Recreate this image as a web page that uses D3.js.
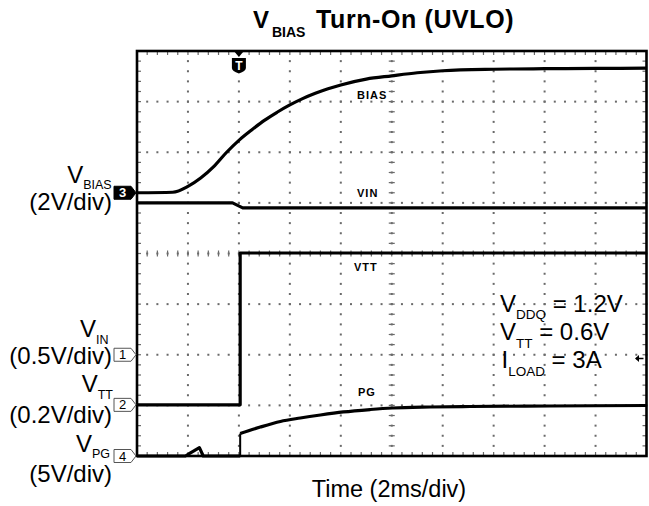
<!DOCTYPE html>
<html>
<head>
<meta charset="utf-8">
<script src="https://cdn.jsdelivr.net/npm/d3@7"></script>
<style>
  html, body { margin: 0; padding: 0; background: #fff; }
  svg { display: block; font-family: "Liberation Sans", Arial, Helvetica, sans-serif; }
</style>
</head>
<body>
<svg id="chart" width="649" height="506"></svg>
<script>
// ---- Data (time in ms, values in volts) ----
const biasT = [-4, -2.6, -2.0, -1.5, -1.0, -0.5, 0, 0.5, 1.0, 1.5, 2.0, 2.5, 3.0, 3.5, 4.0, 5.0, 6.0, 7.0, 8.0, 10, 12, 14, 16];
const biasV = [0, 0.02, 0.25, 0.58, 1.02, 1.58, 2.07, 2.48, 2.86, 3.18, 3.47, 3.72, 3.93, 4.11, 4.26, 4.49, 4.62, 4.74, 4.82, 4.88, 4.90, 4.91, 4.92];

const vinT = [-4, -0.25, 0.15, 16];
const vinV = [1.50, 1.50, 1.45, 1.45];

const vttT = [-4, 0.05, 0.05, 16];
const vttV = [0, 0, 0.60, 0.60];

const pgT = [-4, -2.1, -1.9, -1.55, -1.4, 0.05, 0.05, 0.84, 1.63, 2.41, 3.2, 4.1, 5.16, 6.02, 7.51, 9.08, 12.2, 16];
const pgV = [0, 0, 0.30, 0.82, 0, 0, 2.22, 2.86, 3.41, 3.75, 4.05, 4.35, 4.59, 4.74, 4.84, 4.89, 4.94, 4.99];

// Channel setup: number, name, volts/div, ground offset (div from centre)
const chNames   = ["VIN", "VTT", "BIAS", "PG"];
const chNumbers = ["1", "2", "3", "4"];
const chVoltsPerDiv = [0.5, 0.2, 2, 5];
const chGroundDiv   = [-2.0, -2.99, 1.2, -4.0];

// Axis setup
const timeDomain = [-4, 16];     // ms, 2 ms/div
const divDomain = [-4, 4];       // vertical divisions
const triggerTime = 0;

// ---- Drawing ----
const svg = d3.select("#chart");
const X0 = 137, X1 = 646.5, Y0 = 456, Y1 = 51;
const x = d3.scaleLinear().domain(timeDomain).range([X0, X1]);
const yDiv = d3.scaleLinear().domain(divDomain).range([Y0, Y1]);

const gridColor = "#6a6a6a";
const g = svg.append("g");

const minorT = d3.range(timeDomain[0], timeDomain[1] + 1e-6, 0.4);
const minorD = d3.range(divDomain[0], divDomain[1] + 1e-6, 0.2);
const majorT = d3.range(timeDomain[0] + 2, timeDomain[1], 2);
const majorD = d3.range(divDomain[0] + 1, divDomain[1], 1);

// dotted major grid lines
majorT.forEach(t => {
  minorD.forEach(d => {
    g.append("rect").attr("x", x(t) - 1).attr("y", yDiv(d) - 1)
      .attr("width", 2).attr("height", 2).attr("fill", gridColor);
  });
});
majorD.forEach(d => {
  minorT.forEach(t => {
    g.append("rect").attr("x", x(t) - 1).attr("y", yDiv(d) - 1)
      .attr("width", 2).attr("height", 2).attr("fill", gridColor);
  });
});
// centre line ticks
minorT.forEach(t => {
  g.append("line").attr("x1", x(t)).attr("x2", x(t))
    .attr("y1", yDiv(0) - 3).attr("y2", yDiv(0) + 3)
    .attr("stroke", gridColor).attr("stroke-width", 1.2);
});
minorD.forEach(d => {
  g.append("line").attr("x1", x(6) - 3).attr("x2", x(6) + 3)
    .attr("y1", yDiv(d)).attr("y2", yDiv(d))
    .attr("stroke", gridColor).attr("stroke-width", 1.2);
});
// border ticks
minorT.forEach(t => {
  g.append("line").attr("x1", x(t)).attr("x2", x(t)).attr("y1", Y1).attr("y2", Y1 + 4)
    .attr("stroke", gridColor).attr("stroke-width", 1.2);
  g.append("line").attr("x1", x(t)).attr("x2", x(t)).attr("y1", Y0).attr("y2", Y0 - 4)
    .attr("stroke", gridColor).attr("stroke-width", 1.2);
});
minorD.forEach(d => {
  g.append("line").attr("x1", X0).attr("x2", X0 + 4).attr("y1", yDiv(d)).attr("y2", yDiv(d))
    .attr("stroke", gridColor).attr("stroke-width", 1.2);
  g.append("line").attr("x1", X1).attr("x2", X1 - 4).attr("y1", yDiv(d)).attr("y2", yDiv(d))
    .attr("stroke", gridColor).attr("stroke-width", 1.2);
});

// traces
const traceWidth = 3.2;
function trace(ts, vs, ch, curved) {
  const pts = ts.map((t, i) => [t, vs[i]]);
  const line = d3.line()
    .x(d => x(d[0]))
    .y(d => yDiv(chGroundDiv[ch] + d[1] / chVoltsPerDiv[ch]));
  if (curved) line.curve(d3.curveMonotoneX);
  g.append("path").attr("d", line(pts)).attr("fill", "none")
    .attr("stroke", "#000").attr("stroke-width", traceWidth).attr("stroke-linejoin", "round");
}
trace(biasT, biasV, 2, true);
trace(vinT, vinV, 0, false);
trace(vttT, vttV, 1, false);
trace(pgT.slice(0, 6), pgV.slice(0, 6), 3, false);
g.append("path").attr("d", d3.line().x(d => x(d[0])).y(d => yDiv(chGroundDiv[3] + d[1] / chVoltsPerDiv[3]))
  ([[pgT[5], pgV[5]], [pgT[6], pgV[6]]])).attr("stroke", "#000").attr("stroke-width", 2);
trace(pgT.slice(6), pgV.slice(6), 3, true);

// border
g.append("rect").attr("x", X0).attr("y", Y1).attr("width", X1 - X0).attr("height", Y0 - Y1)
  .attr("fill", "none").attr("stroke", "#000").attr("stroke-width", 2.6);

// trace labels
const traceLabelPos = [[357, 197.3], [354, 270.7], [357, 99.3], [358, 396]];
chNames.forEach((n, i) => {
  g.append("text").attr("x", traceLabelPos[i][0]).attr("y", traceLabelPos[i][1])
    .attr("font-size", 11).attr("font-weight", "bold").attr("letter-spacing", 1)
    .text(n);
});

// channel markers
chNumbers.forEach((n, i) => {
  const yy = yDiv(chGroundDiv[i]);
  const filled = i === 2;
  g.append("path")
    .attr("d", `M114,${yy - 6.5} L131,${yy - 6.5} L136,${yy} L131,${yy + 6.5} L114,${yy + 6.5} Z`)
    .attr("fill", filled ? "#000" : "#fff").attr("stroke", filled ? "#000" : "#555").attr("stroke-width", 1);
  g.append("text").attr("x", 122.5).attr("y", yy + 4.5).attr("text-anchor", "middle")
    .attr("font-size", 13).attr("font-weight", filled ? "bold" : "normal")
    .attr("fill", filled ? "#fff" : "#000").text(n);
});

// trigger marker
const tx = x(triggerTime);
g.append("path").attr("d", `M${tx - 5},${Y1} L${tx + 5},${Y1} L${tx},${Y1 + 6} Z`).attr("fill", "#000");
g.append("path").attr("d", `M${tx - 7},58 L${tx + 7},58 L${tx + 7},68 Q${tx + 7},71 ${tx},73.5 Q${tx - 7},71 ${tx - 7},68 Z`).attr("fill", "#000");
g.append("text").attr("x", tx).attr("y", 69.5).attr("text-anchor", "middle")
  .attr("font-size", 12).attr("font-weight", "bold").attr("fill", "#fff").text("T");

// trigger level arrow on right
g.append("path").attr("d", "M636,358.5 L643.5,358.5").attr("stroke", "#000").attr("stroke-width", 1.5);
g.append("path").attr("d", "M635,358.5 L639,355 L639,362 Z").attr("fill", "#000");

// Title
svg.append("text").attr("x", 253).attr("y", 28.3).attr("font-size", 24).attr("font-weight", "bold").text("V");
svg.append("text").attr("x", 272).attr("y", 37.3).attr("font-size", 14).attr("font-weight", "bold").text("BIAS");
svg.append("text").attr("x", 316).attr("y", 28.3).attr("font-size", 25).attr("font-weight", "bold")
  .attr("letter-spacing", 0.6).text("Turn-On (UVLO)");

// left channel labels
const leftLabels = [
  { sub: "IN",   vy: 336.7, sy: 7.3, end: 108.5, scale: "(0.5V/div)", scy: 364 },
  { sub: "TT",   vy: 391.7, sy: 6.8, end: 113,   scale: "(0.2V/div)", scy: 423.3 },
  { sub: "BIAS", vy: 183.3, sy: 5.5, end: 111.7, scale: "(2V/div)",   scy: 210 },
  { sub: "PG",   vy: 451.7, sy: 5.8, end: 110,   scale: "(5V/div)",   scy: 481.7 }
];
leftLabels.forEach(l => {
  const t = svg.append("text").attr("x", l.end).attr("y", l.vy).attr("text-anchor", "end").attr("font-size", 24);
  t.append("tspan").text("V");
  t.append("tspan").attr("font-size", 12.5).attr("dy", l.sy).text(l.sub);
  svg.append("text").attr("x", 112).attr("y", l.scy).attr("text-anchor", "end").attr("font-size", 24).text(l.scale);
});

// right annotation
const notes = [["V", "DDQ", " = 1.2V", 311.7], ["V", "TT", " = 0.6V", 340], ["I", "LOAD", " = 3A", 368.3]];
notes.forEach(n => {
  const t = svg.append("text").attr("x", n[0] === "I" ? 501.5 : 500).attr("y", n[3]).attr("font-size", 24);
  t.append("tspan").text(n[0]);
  t.append("tspan").attr("font-size", 13.5).attr("dy", 7.5).text(n[1]);
  t.append("tspan").attr("dy", -7.5).text(n[2]);
});

// x label
svg.append("text").attr("x", 311.7).attr("y", 496.7).attr("font-size", 23.5).text("Time (2ms/div)");
</script>
</body>
</html>
